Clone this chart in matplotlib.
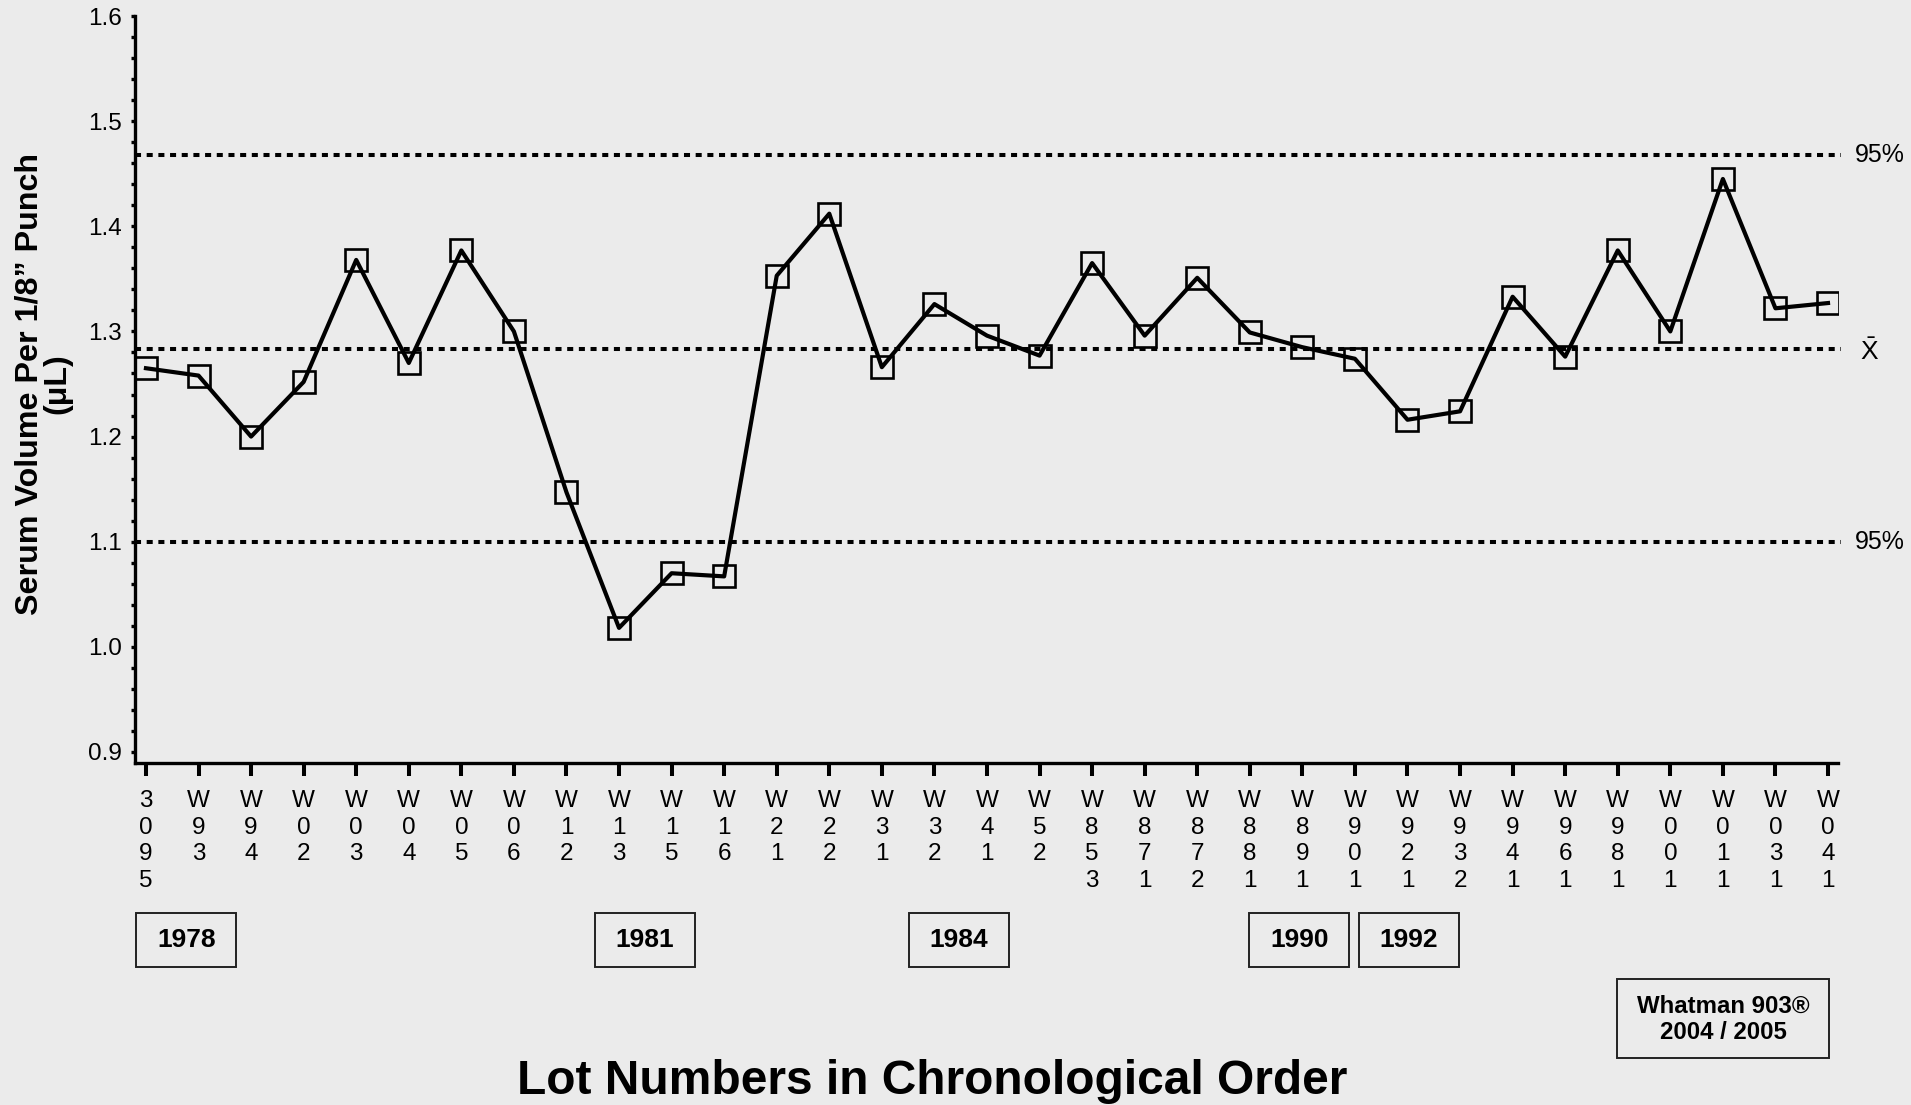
import numpy as np
import matplotlib
matplotlib.use("Agg")
import matplotlib.pyplot as plt
from matplotlib.patches import Rectangle
from matplotlib.ticker import MultipleLocator
from matplotlib.transforms import blended_transform_factory

lots = ["3095", "W93", "W94", "W02", "W03", "W04", "W05", "W06", "W12", "W13",
        "W15", "W16", "W21", "W22", "W31", "W32", "W41", "W52", "W853", "W871",
        "W872", "W881", "W891", "W901", "W921", "W932", "W941", "W961", "W981",
        "W001", "W011", "W031", "W041"]
serum_volume = [1.265, 1.258, 1.200, 1.252, 1.368, 1.270, 1.377, 1.300, 1.147, 1.018,
                1.070, 1.067, 1.353, 1.412, 1.266, 1.326, 1.296, 1.277, 1.365, 1.296,
                1.351, 1.299, 1.285, 1.274, 1.216, 1.224, 1.333, 1.276, 1.377,
                1.300, 1.445, 1.322, 1.327]
upper_95 = 1.468
mean_x = 1.283
lower_95 = 1.100
years = ["1978", "1981", "1984", "1990", "1992"]
paper_label = "Whatman 903\u00ae\n2004 / 2005"

plt.rcParams['font.family'] = ['Liberation Sans', 'DejaVu Sans']
plt.rcParams['mathtext.fontset'] = 'custom'
plt.rcParams['mathtext.rm'] = 'Liberation Sans'

bg = '#ebebeb'
fig = plt.figure(figsize=(19.11, 11.05), dpi=100, facecolor=bg)
ax = fig.add_axes([0.0706, 0.3095, 0.8912, 0.676])
ax.set_facecolor(bg)

x = np.arange(len(lots))
ax.plot(x, serum_volume, color='black', lw=3, marker='s', ms=16.5,
        mfc='none', mec='black', mew=1.9, zorder=3)

# control limits and mean
for yv in [upper_95, mean_x, lower_95]:
    ax.plot([-0.21, 32.24], [yv, yv], color='black', lw=2.9,
            linestyle=(0, (1.5, 1.4)), clip_on=False, zorder=2)
ax.text(32.51, upper_95, "95%", fontsize=18, ha='left', va='center')
ax.text(32.51, lower_95, "95%", fontsize=18, ha='left', va='center')
ax.text(32.6, mean_x - 0.002, r'$\bar{\mathrm{X}}$', fontsize=19, ha='left', va='center')

ax.set_xlim(-0.21, 32.19)
ax.set_ylim(0.8895, 1.6)
for s in ['top', 'right']:
    ax.spines[s].set_visible(False)
for s in ['left', 'bottom']:
    ax.spines[s].set_linewidth(2.4)

ax.set_yticks(np.arange(0.9, 1.61, 0.1))
ax.set_yticklabels(["%.1f" % v for v in np.arange(0.9, 1.61, 0.1)])
ax.yaxis.set_minor_locator(MultipleLocator(0.02))
ax.tick_params(axis='y', which='both', direction='out', length=3.1, width=2.4,
               labelsize=17.5, pad=6)
ax.set_xticks(x)
ax.set_xticklabels(["\n".join(l) for l in lots], fontsize=17.5, linespacing=1.28)
ax.tick_params(axis='x', direction='out', length=9.4, width=2.9, pad=10)

# year boxes under the lot labels
trans = blended_transform_factory(ax.transData, fig.transFigure)
for yr, xc in zip(years, [0.77, 9.49, 15.46, 21.94, 24.03]):
    ax.add_patch(Rectangle((xc - 0.95, 0.1253), 1.9, 0.0484, transform=trans,
                           fill=False, ec='#222222', lw=1.4, clip_on=False))
    ax.text(xc, 0.1493, yr, transform=trans, ha='center', va='center',
            fontsize=19, fontweight='bold')

ax.add_patch(Rectangle((30.01 - 2.015, 0.0425), 4.03, 0.0715, transform=trans,
                       fill=False, ec='#222222', lw=1.4, clip_on=False))
ax.text(30.01, 0.0775, paper_label, transform=trans, ha='center', va='center',
        fontsize=17.3, fontweight='bold', linespacing=1.22)

fig.text(0.0228, 0.6525, "Serum Volume Per 1/8\u201d Punch\n(\u03bcL)", rotation=90,
         fontsize=23.2, fontweight='bold', ha='center', va='center',
         multialignment='center', linespacing=0.92)
fig.text(0.488, 0.021, "Lot Numbers in Chronological Order", fontsize=34.5,
         fontweight='bold', ha='center', va='center')

fig.savefig("out.png", dpi=100, facecolor=bg)
